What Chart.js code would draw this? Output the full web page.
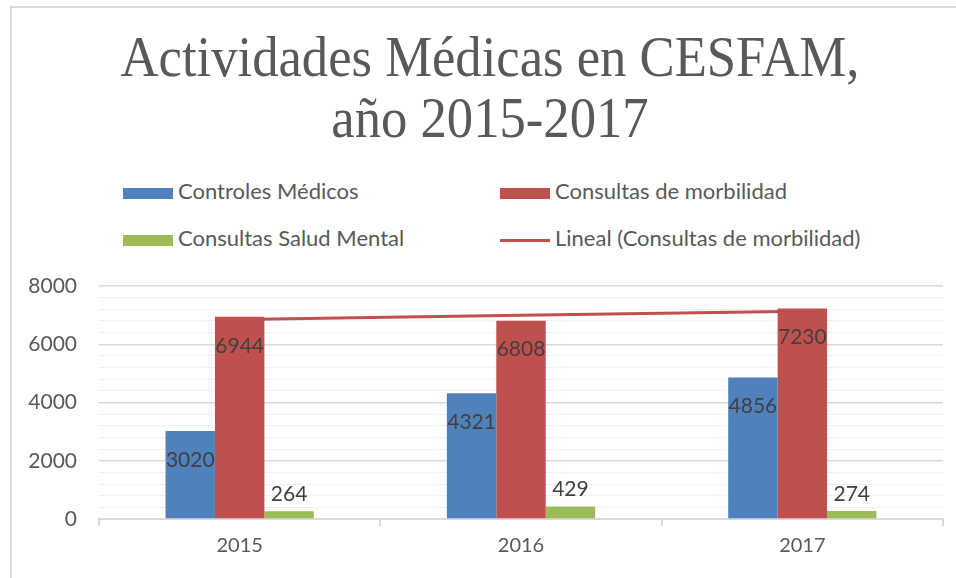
<!DOCTYPE html>
<html>
<head>
<meta charset="utf-8">
<script src="https://cdn.jsdelivr.net/npm/chart.js@4"></script>
<style>
  html, body { margin: 0; padding: 0; background: #fff; }
  #wrap { position: relative; width: 956px; height: 578px; overflow: hidden; }
  #frame { position: absolute; left: 10px; top: 6px; width: 1000px; height: 700px;
           border-left: 2px solid #d9d9d9; border-top: 2px solid #d9d9d9; }
  #title { position: absolute; left: 12px; top: 27px; width: 956px; text-align: center;
           font-family: "Liberation Serif", serif; font-size: 56px; line-height: 61px; color: #595959;
           transform: scaleX(0.94); transform-origin: 50% 0; }
  .leg { position: absolute; font-family: Lato, sans-serif; font-size: 22px; color: #595959;
         white-space: nowrap; line-height: 26px; }
  .leg span { display: inline-block; width: 50px; vertical-align: middle; margin-right: 5px; }
  canvas { position: absolute; left: 0; top: 0; }
</style>
</head>
<body>
<div id="wrap">
  <div id="frame"></div>
  <div id="title">Actividades Médicas en CESFAM,<br>año 2015-2017</div>
  <div id="legend"></div>
  <canvas id="chart" width="956" height="578"></canvas>
</div>
<script>
const years = ["2015", "2016", "2017"];
const controles = [3020, 4321, 4856];
const morbilidad = [6944, 6808, 7230];
const saludMental = [264, 429, 274];
// trend line values
const tendencia = [6851, 6994, 7137];

const seriesNames = ["Controles Médicos", "Consultas de morbilidad", "Consultas Salud Mental", "Lineal (Consultas de morbilidad)"];
const colors = ["#4f81bd", "#c0504d", "#9bbb59", "#c0504d"];

// legend, two columns
const legendPos = [[123, 178], [500, 178], [123, 225], [500, 225]];
const legend = document.getElementById("legend");
seriesNames.forEach((name, i) => {
  const item = document.createElement("div");
  item.className = "leg";
  item.style.left = legendPos[i][0] + "px";
  item.style.top = legendPos[i][1] + "px";
  const sw = document.createElement("span");
  sw.style.background = colors[i];
  sw.style.height = i === 3 ? "3px" : "11px";
  item.appendChild(sw);
  item.appendChild(document.createTextNode(name));
  legend.appendChild(item);
});

const valueLabels = {
  id: "valueLabels",
  afterDatasetsDraw(chart) {
    const ctx = chart.ctx;
    ctx.save();
    ctx.font = "21px Lato";
    ctx.fillStyle = "#404040";
    ctx.textAlign = "center";
    ctx.textBaseline = "middle";
    chart.data.datasets.forEach((ds, i) => {
      if (ds.type === "line") return;
      chart.getDatasetMeta(i).data.forEach((bar, j) => {
        const y = i === 2 ? bar.y - 17 : bar.y + 29;
        ctx.fillText(ds.data[j], bar.x, y);
      });
    });
    ctx.restore();
  }
};

new Chart(document.getElementById("chart"), {
  type: "bar",
  data: {
    labels: years,
    datasets: [
      { label: seriesNames[0], data: controles, backgroundColor: colors[0], order: 1 },
      { label: seriesNames[1], data: morbilidad, backgroundColor: colors[1], order: 1 },
      { label: seriesNames[2], data: saludMental, backgroundColor: colors[2], order: 1 },
      { type: "line", label: seriesNames[3], data: tendencia, borderColor: colors[3],
        borderWidth: 3, pointRadius: 0, fill: false, order: 2 }
    ]
  },
  options: {
    responsive: false,
    animation: false,
    datasets: { bar: { categoryPercentage: 0.527, barPercentage: 1 } },
    layout: { padding: { top: 286, right: 13, left: 0, bottom: 0 } },
    plugins: { legend: { display: false }, title: { display: false }, tooltip: { enabled: false } },
    scales: {
      x: {
        afterFit: s => { s.height = 59; },
        grid: { drawOnChartArea: false, drawTicks: true, tickLength: 7, color: "#d9d9d9", lineWidth: 2 },
        border: { color: "#d9d9d9", width: 2 },
        ticks: { color: "#595959", font: { family: "Lato", size: 20 }, padding: 8 }
      },
      y: {
        min: 0, max: 8000,
        afterFit: s => { s.width = 99; },
        border: { display: false },
        grid: {
          drawTicks: false,
          color: c => c.tick.value % 2000 === 0 ? "#d9d9d9" : "#f0f0f0",
          lineWidth: c => c.tick.value % 2000 === 0 ? 1.5 : 1
        },
        ticks: {
          stepSize: 400, autoSkip: false, padding: 22,
          color: "#595959", font: { family: "Lato", size: 21 },
          callback: v => v % 2000 === 0 ? v : ""
        }
      }
    }
  },
  plugins: [valueLabels]
});
</script>
</body>
</html>
